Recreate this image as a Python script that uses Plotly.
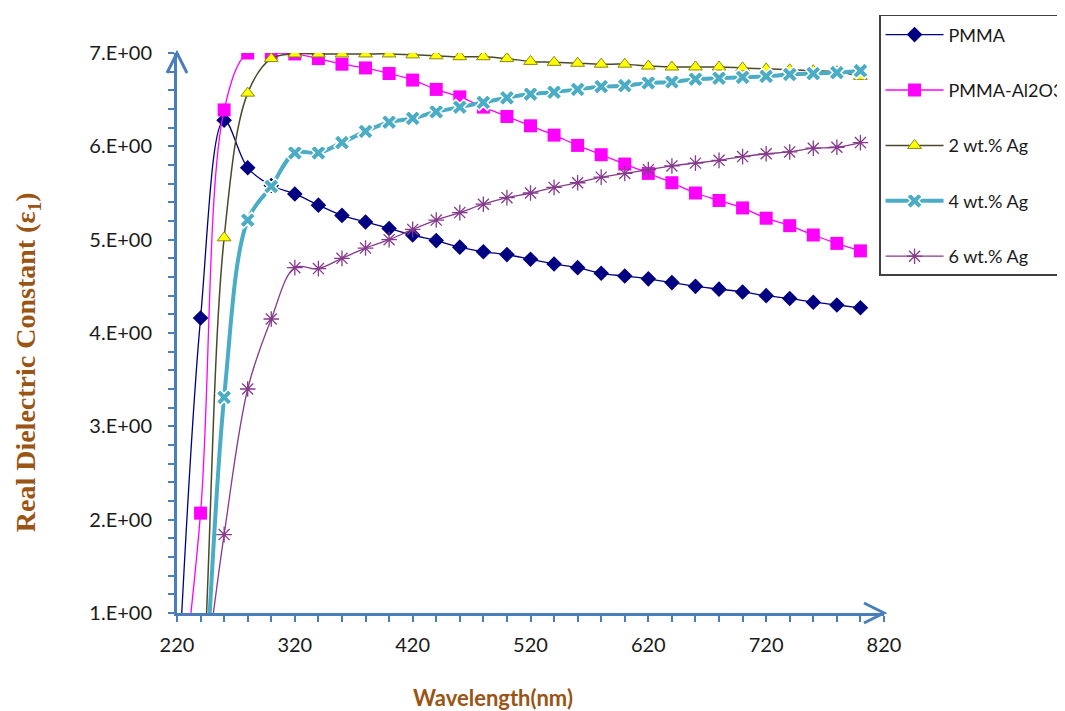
import plotly.graph_objects as go

# ---- data ----
wavelength = [220, 240, 260, 280, 300, 320, 340, 360, 380, 400, 420, 440, 460, 480, 500,
              520, 540, 560, 580, 600, 620, 640, 660, 680, 700, 720, 740, 760, 780, 800]

pmma = [0.00, 4.16, 6.28, 5.77, 5.58, 5.49, 5.37, 5.26, 5.19, 5.12, 5.05, 4.99, 4.92, 4.87, 4.84,
        4.79, 4.74, 4.70, 4.64, 4.61, 4.58, 4.54, 4.50, 4.47, 4.44, 4.40, 4.37, 4.33, 4.30, 4.27]

pmma_al2o3 = [-0.30, 2.07, 6.39, 7.00, 7.00, 6.99, 6.94, 6.88, 6.84, 6.78, 6.71, 6.61, 6.53, 6.42, 6.32,
              6.22, 6.12, 6.01, 5.91, 5.81, 5.71, 5.61, 5.50, 5.42, 5.34, 5.23, 5.15, 5.05, 4.96, 4.88]

ag2 = [-3.00, -0.30, 5.02, 6.57, 6.94, 6.99, 6.99, 6.99, 6.99, 6.99, 6.98, 6.97, 6.96, 6.96, 6.94,
       6.91, 6.90, 6.89, 6.88, 6.88, 6.86, 6.85, 6.85, 6.85, 6.84, 6.83, 6.82, 6.81, 6.80, 6.75]

ag4 = [-3.00, -0.50, 3.31, 5.21, 5.57, 5.93, 5.93, 6.04, 6.16, 6.26, 6.30, 6.37, 6.42, 6.47, 6.52,
       6.56, 6.58, 6.61, 6.64, 6.65, 6.68, 6.69, 6.72, 6.73, 6.74, 6.75, 6.77, 6.78, 6.79, 6.81]

ag6 = [-1.50, 0.00, 1.84, 3.40, 4.15, 4.70, 4.69, 4.80, 4.91, 5.00, 5.11, 5.21, 5.29, 5.38, 5.45,
       5.50, 5.56, 5.61, 5.67, 5.71, 5.75, 5.79, 5.82, 5.85, 5.89, 5.92, 5.94, 5.98, 5.99, 6.04]

series_names = ["PMMA", "PMMA-Al2O3", "2 wt.% Ag", "4 wt.% Ag", "6 wt.% Ag"]

x_tickvals = [220, 320, 420, 520, 620, 720, 820]
y_tickvals = [1, 2, 3, 4, 5, 6, 7]
y_ticktext = ["1.E+00", "2.E+00", "3.E+00", "4.E+00", "5.E+00", "6.E+00", "7.E+00"]

AXIS_BLUE = "#4a7ebb"
TITLE_BROWN = "#9a5414"

fig = go.Figure()

fig.add_trace(go.Scatter(
    x=wavelength, y=pmma, name=series_names[0], legendgroup="g1",
    mode="lines+markers", line=dict(color="#000080", width=1.3, shape="spline"),
    marker=dict(symbol="diamond", size=12, color="#000080")))

fig.add_trace(go.Scatter(
    x=wavelength, y=pmma_al2o3, name=series_names[1], legendgroup="g2",
    mode="lines+markers", line=dict(color="#ff00ff", width=1.3, shape="spline"),
    marker=dict(symbol="square", size=13, color="#ff00ff")))

fig.add_trace(go.Scatter(
    x=wavelength, y=ag2, name=series_names[2], legendgroup="g3",
    mode="lines+markers", line=dict(color="#4a4a2a", width=1.5, shape="spline"),
    marker=dict(symbol="triangle-up", size=12, color="#ffff00",
                line=dict(color="#8a8a10", width=1))))

fig.add_trace(go.Scatter(
    x=wavelength, y=ag4, name=series_names[3], legendgroup="g4",
    mode="lines+markers", line=dict(color="#4bacc6", width=4, shape="spline"),
    marker=dict(symbol="x", size=14, color="#4bacc6",
                line=dict(color="white", width=1.5))))

fig.add_trace(go.Scatter(
    x=wavelength, y=ag6, name=series_names[4], legendgroup="g5",
    mode="lines+markers", line=dict(color="#853a8c", width=1.3, shape="spline"),
    marker=dict(symbol="asterisk-open", size=13, color="#853a8c",
                line=dict(color="#853a8c", width=1.3))))

tick_font = dict(family="Lato, Liberation Sans, sans-serif", size=20, color="#1a1a1a")

fig.update_xaxes(
    range=[220, 820], tickmode="array", tickvals=x_tickvals,
    showline=True, linecolor=AXIS_BLUE, linewidth=3,
    ticks="outside", ticklen=6, tickwidth=2, tickcolor=AXIS_BLUE,
    minor=dict(dtick=20, tick0=220, ticks="outside", ticklen=6, tickwidth=2, tickcolor=AXIS_BLUE),
    showgrid=False, zeroline=False, tickfont=tick_font, ticklabelstandoff=6)

fig.update_yaxes(
    range=[1, 7], tickmode="array", tickvals=y_tickvals, ticktext=y_ticktext,
    showline=True, linecolor=AXIS_BLUE, linewidth=3,
    ticks="outside", ticklen=6, tickwidth=2, tickcolor=AXIS_BLUE,
    minor=dict(dtick=0.2, tick0=1, ticks="outside", ticklen=6, tickwidth=2, tickcolor=AXIS_BLUE),
    showgrid=False, zeroline=False, tickfont=tick_font, ticklabelstandoff=12)

# axis arrowheads (pixel-sized, anchored at the axis ends)
fig.add_shape(type="path", xref="paper", yref="paper", xsizemode="pixel", ysizemode="pixel",
              xanchor=0, yanchor=1, path="M -10,-20 L 0,0 L 10,-20",
              line=dict(color=AXIS_BLUE, width=3))
fig.add_shape(type="path", xref="paper", yref="paper", xsizemode="pixel", ysizemode="pixel",
              xanchor=1, yanchor=0, path="M -20,10 L 0,0 L -20,-10",
              line=dict(color=AXIS_BLUE, width=3))

# axis titles
fig.add_annotation(xref="paper", yref="paper", x=-0.212, y=0.448, showarrow=False,
                   textangle=-90, xanchor="center", yanchor="middle",
                   text="<b>Real Dielectric Constant (ε<sub>1</sub>)</b>",
                   font=dict(family="Liberation Serif, Times New Roman, serif", size=28,
                             color=TITLE_BROWN))
fig.add_annotation(xref="paper", yref="paper", x=0.447, y=-0.150, showarrow=False,
                   xanchor="center", yanchor="middle",
                   text="<b>Wavelength(nm)</b>",
                   font=dict(family="Lato, Liberation Sans, sans-serif", size=22,
                             color=TITLE_BROWN))

# page body has an 8px default margin, so the figure is sized to fit inside the window
fig.update_layout(
    width=1057, height=703,
    margin=dict(l=169, r=181, t=45, b=98, autoexpand=False),
    paper_bgcolor="white", plot_bgcolor="white",
    showlegend=True,
    legend=dict(x=0.993, y=1.068, xanchor="left", yanchor="top",
                bgcolor="white", bordercolor="#404040", borderwidth=1.5,
                font=dict(family="Lato, Liberation Sans, sans-serif", size=18, color="#1a1a1a"),
                traceorder="grouped", tracegroupgap=29, itemwidth=58),
)

fig.write_html("out.html")
